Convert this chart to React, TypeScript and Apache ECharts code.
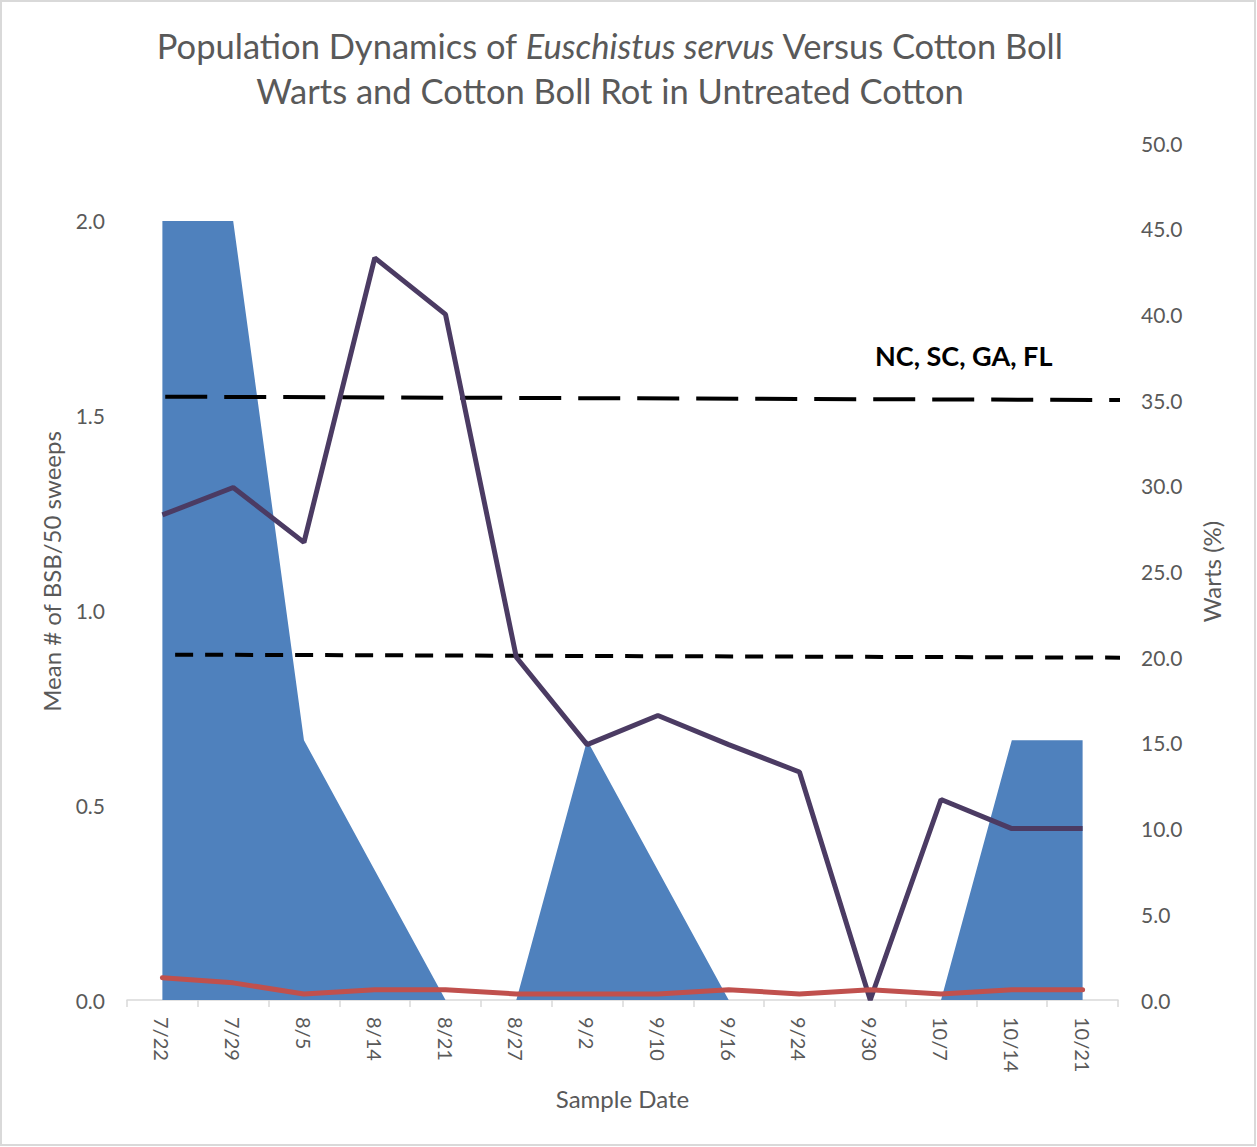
import React, { useEffect, useRef } from "react";
import * as echarts from "echarts";

const categories = ["7/22", "7/29", "8/5", "8/14", "8/21", "8/27", "9/2", "9/10", "9/16", "9/24", "9/30", "10/7", "10/14", "10/21"];
const bsbMean = [2.0, 2.0, 0.667, 0.333, 0, 0, 0.667, 0.333, 0, 0, 0, 0, 0.667, 0.667];
const wartsPct = [28.3, 29.9, 26.7, 43.3, 40.0, 20.0, 14.9, 16.6, 14.9, 13.3, 0, 11.7, 10.0, 10.0];
const bollRotPct = [1.3, 1.0, 0.35, 0.6, 0.6, 0.35, 0.35, 0.35, 0.6, 0.35, 0.6, 0.35, 0.6, 0.6];
// threshold lines: [x position in category units, warts %]
const thresholdHigh = [[0.04, 35.2], [13.67, 35.0]];
const thresholdLow = [[0.18, 20.15], [13.81, 19.97]];
const leftTicks = { min: 0, max: 2.2, interval: 0.5 };
const rightTicks = { min: 0, max: 50, interval: 5 };

const FONT = "Lato, 'Open Sans', sans-serif";
const GRAY = "#595959";

export default function App() {
  const ref = useRef<HTMLDivElement>(null);
  useEffect(() => {
    if (!ref.current) return;
    const chart = echarts.init(ref.current, undefined, { renderer: "svg" });
    chart.setOption({
      animation: false,
      backgroundColor: "#ffffff",
      title: {
        text: "Population Dynamics of {i|Euschistus servus} Versus Cotton Boll\nWarts and Cotton Boll Rot in Untreated Cotton",
        left: 605,
        top: 18,
        textAlign: "center",
        textStyle: {
          fontFamily: FONT,
          fontSize: 34.5,
          fontWeight: "normal",
          color: GRAY,
          lineHeight: 45,
          rich: {
            i: { fontFamily: FONT, fontSize: 34.5, fontStyle: "italic", color: GRAY, lineHeight: 45 },
          },
        },
      },
      grid: { left: 127, right: 139, top: 143, bottom: 147 },
      xAxis: [
        {
          type: "category",
          data: categories,
          boundaryGap: true,
          name: "Sample Date",
          nameLocation: "middle",
          nameGap: 86,
          nameTextStyle: { fontFamily: FONT, fontSize: 24, color: GRAY },
          axisLine: { lineStyle: { color: "#d9d9d9", width: 1.5 } },
          axisTick: { show: true, length: 7, lineStyle: { color: "#d9d9d9", width: 1.5 } },
          axisLabel: { rotate: -90, margin: 17, fontFamily: FONT, fontSize: 20, color: GRAY, interval: 0 },
          splitLine: { show: false },
        },
        {
          type: "value",
          min: -0.5,
          max: 13.5,
          show: false,
          position: "bottom",
        },
      ],
      yAxis: [
        {
          type: "value",
          min: leftTicks.min,
          max: leftTicks.max,
          interval: leftTicks.interval,
          name: "Mean # of BSB/50 sweeps",
          nameLocation: "middle",
          nameGap: 64,
          nameTextStyle: { fontFamily: FONT, fontSize: 24, color: GRAY },
          axisLine: { show: false },
          axisTick: { show: false },
          splitLine: { show: false },
          axisLabel: {
            showMaxLabel: false,
            margin: 22,
            fontFamily: FONT,
            fontSize: 21,
            color: GRAY,
            formatter: (v: number) => (v > 2.05 ? "" : v.toFixed(1)),
          },
        },
        {
          type: "value",
          position: "right",
          min: rightTicks.min,
          max: rightTicks.max,
          interval: rightTicks.interval,
          name: "Warts (%)",
          nameLocation: "middle",
          nameGap: 81,
          nameTextStyle: { fontFamily: FONT, fontSize: 24, color: GRAY },
          axisLine: { show: false },
          axisTick: { show: false },
          splitLine: { show: false },
          axisLabel: {
            margin: 23,
            fontFamily: FONT,
            fontSize: 21,
            color: GRAY,
            formatter: (v: number) => v.toFixed(1),
          },
        },
      ],
      graphic: [
        {
          type: "rect",
          shape: { x: 1, y: 1, width: 1254, height: 1144 },
          style: { fill: "none", stroke: "#d9d9d9", lineWidth: 2 },
          silent: true,
          z: -10,
        },
        {
          type: "text",
          left: 875,
          top: 342,
          style: {
            text: "NC, SC, GA, FL",
            font: `bold 27px ${FONT}`,
            fill: "#000000",
          },
        },
      ],
      series: [
        {
          name: "BSB",
          type: "line",
          xAxisIndex: 0,
          yAxisIndex: 0,
          data: bsbMean,
          symbol: "none",
          lineStyle: { width: 0 },
          areaStyle: { color: "#4f81bd", opacity: 1 },
          z: 1,
        },
        {
          name: "Threshold 35",
          type: "line",
          xAxisIndex: 1,
          yAxisIndex: 1,
          data: thresholdHigh,
          symbol: "none",
          clip: false,
          lineStyle: { color: "#000000", width: 4, type: [42, 17] },
          z: 3,
        },
        {
          name: "Threshold 20",
          type: "line",
          xAxisIndex: 1,
          yAxisIndex: 1,
          data: thresholdLow,
          symbol: "none",
          clip: false,
          lineStyle: { color: "#000000", width: 4, type: [18, 12] },
          z: 3,
        },
        {
          name: "Warts",
          type: "line",
          xAxisIndex: 0,
          yAxisIndex: 1,
          data: wartsPct,
          symbol: "none",
          lineStyle: { color: "#4b3b63", width: 5 },
          z: 4,
        },
        {
          name: "Boll rot",
          type: "line",
          xAxisIndex: 0,
          yAxisIndex: 1,
          data: bollRotPct,
          symbol: "none",
          lineStyle: { color: "#c0504d", width: 5, cap: "round" },
          z: 5,
        },
      ],
    });
    return () => chart.dispose();
  }, []);
  return (
    <div
      ref={ref}
      style={{
        position: "absolute",
        left: 0,
        top: 0,
        width: 1257,
        height: 1147,
      }}
    />
  );
}
